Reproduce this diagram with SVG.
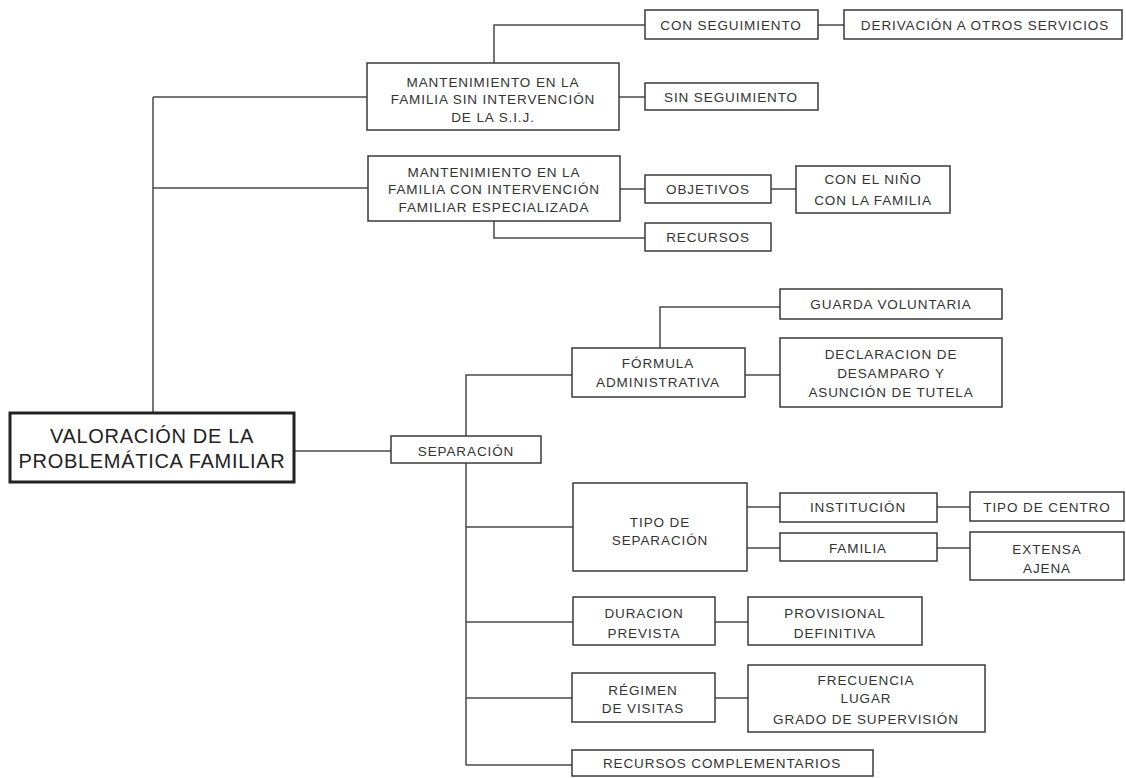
<svg xmlns="http://www.w3.org/2000/svg" width="1126" height="778" viewBox="0 0 1126 778">
<style>
.bg{fill:#fff}
.box{fill:#fff;stroke:#3a3a3a;stroke-width:1.5}
.main{fill:#fff;stroke:#222;stroke-width:3}
.con{fill:none;stroke:#4a4a4a;stroke-width:1.5}
text{font-family:"Liberation Sans",Arial,sans-serif;font-size:13.5px;fill:#333;text-anchor:middle;letter-spacing:0.9px}
.big{font-size:20px;letter-spacing:0.7px;fill:#222}
</style>
<rect class="bg" x="0" y="0" width="1126" height="778"/>
<g id="connectors">
<path class="con" d="M153 97 V412 M153 97 H367 M153 188 H368"/>
<path class="con" d="M494 63 V25 H645 M818 25 H844 M619 97 H645"/>
<path class="con" d="M620 189 H645 M771 189 H796 M494 221 V238 H645"/>
<path class="con" d="M294 451 H391"/>
<path class="con" d="M572 375 H466 V436 M466 463 V765 M466 527 H573 M466 622 H573 M466 698 H572 M466 765 H572"/>
<path class="con" d="M660 348 V307 H780 M745 375 H780"/>
<path class="con" d="M747 507 H780 M747 548 H780 M937 507 H970 M937 548 H970"/>
<path class="con" d="M715 622 H748 M715 698 H748"/>
</g>
<g id="n-valoracion">
<rect class="main" x="10" y="413" width="284" height="69"/>
<text class="big" x="152" y="443">VALORACIÓN DE LA</text>
<text class="big" x="152" y="468">PROBLEMÁTICA FAMILIAR</text>
</g>
<g id="n-mant1">
<rect class="box" x="367" y="63" width="252" height="67"/>
<text x="493" y="87">MANTENIMIENTO EN LA</text>
<text x="493" y="104">FAMILIA SIN INTERVENCIÓN</text>
<text x="493" y="122">DE LA S.I.J.</text>
</g>
<g id="n-conseg">
<rect class="box" x="645" y="10" width="173" height="29"/>
<text x="731" y="30">CON SEGUIMIENTO</text>
</g>
<g id="n-deriv">
<rect class="box" x="844" y="10" width="278" height="29"/>
<text x="985" y="30">DERIVACIÓN A OTROS SERVICIOS</text>
</g>
<g id="n-sinseg">
<rect class="box" x="645" y="83" width="173" height="27"/>
<text x="731" y="102">SIN SEGUIMIENTO</text>
</g>
<g id="n-mant2">
<rect class="box" x="368" y="156" width="252" height="65"/>
<text x="494" y="177">MANTENIMIENTO EN LA</text>
<text x="494" y="194">FAMILIA CON INTERVENCIÓN</text>
<text x="494" y="212">FAMILIAR ESPECIALIZADA</text>
</g>
<g id="n-objetivos">
<rect class="box" x="645" y="175" width="126" height="28"/>
<text x="708" y="194">OBJETIVOS</text>
</g>
<g id="n-nino">
<rect class="box" x="796" y="166" width="154" height="47"/>
<text x="873" y="184">CON EL NIÑO</text>
<text x="873" y="205">CON LA FAMILIA</text>
</g>
<g id="n-recursos">
<rect class="box" x="645" y="223" width="126" height="28"/>
<text x="708" y="242">RECURSOS</text>
</g>
<g id="n-separacion">
<rect class="box" x="391" y="436" width="150" height="27"/>
<text x="466" y="456">SEPARACIÓN</text>
</g>
<g id="n-formula">
<rect class="box" x="572" y="348" width="173" height="49"/>
<text x="658" y="368">FÓRMULA</text>
<text x="658" y="387">ADMINISTRATIVA</text>
</g>
<g id="n-guarda">
<rect class="box" x="780" y="289" width="222" height="30"/>
<text x="891" y="309">GUARDA VOLUNTARIA</text>
</g>
<g id="n-declaracion">
<rect class="box" x="780" y="338" width="222" height="69"/>
<text x="891" y="359">DECLARACION DE</text>
<text x="891" y="378">DESAMPARO Y</text>
<text x="891" y="397">ASUNCIÓN DE TUTELA</text>
</g>
<g id="n-tipo">
<rect class="box" x="573" y="483" width="174" height="88"/>
<text x="660" y="527">TIPO DE</text>
<text x="660" y="545">SEPARACIÓN</text>
</g>
<g id="n-institucion">
<rect class="box" x="780" y="493" width="157" height="29"/>
<text x="858" y="512">INSTITUCIÓN</text>
</g>
<g id="n-tipocentro">
<rect class="box" x="970" y="492" width="154" height="29"/>
<text x="1047" y="512">TIPO DE CENTRO</text>
</g>
<g id="n-familia">
<rect class="box" x="780" y="533" width="157" height="28"/>
<text x="858" y="553">FAMILIA</text>
</g>
<g id="n-extensa">
<rect class="box" x="970" y="532" width="154" height="48"/>
<text x="1047" y="554">EXTENSA</text>
<text x="1047" y="573">AJENA</text>
</g>
<g id="n-duracion">
<rect class="box" x="573" y="597" width="142" height="48"/>
<text x="644" y="618">DURACION</text>
<text x="644" y="638">PREVISTA</text>
</g>
<g id="n-provisional">
<rect class="box" x="748" y="597" width="174" height="48"/>
<text x="835" y="618">PROVISIONAL</text>
<text x="835" y="638">DEFINITIVA</text>
</g>
<g id="n-regimen">
<rect class="box" x="572" y="673" width="143" height="49"/>
<text x="643" y="695">RÉGIMEN</text>
<text x="643" y="713">DE VISITAS</text>
</g>
<g id="n-frecuencia">
<rect class="box" x="748" y="665" width="237" height="67"/>
<text x="866" y="685">FRECUENCIA</text>
<text x="866" y="703">LUGAR</text>
<text x="866" y="724">GRADO DE SUPERVISIÓN</text>
</g>
<g id="n-reccomp">
<rect class="box" x="572" y="750" width="301" height="26"/>
<text x="722" y="768">RECURSOS COMPLEMENTARIOS</text>
</g>
</svg>
